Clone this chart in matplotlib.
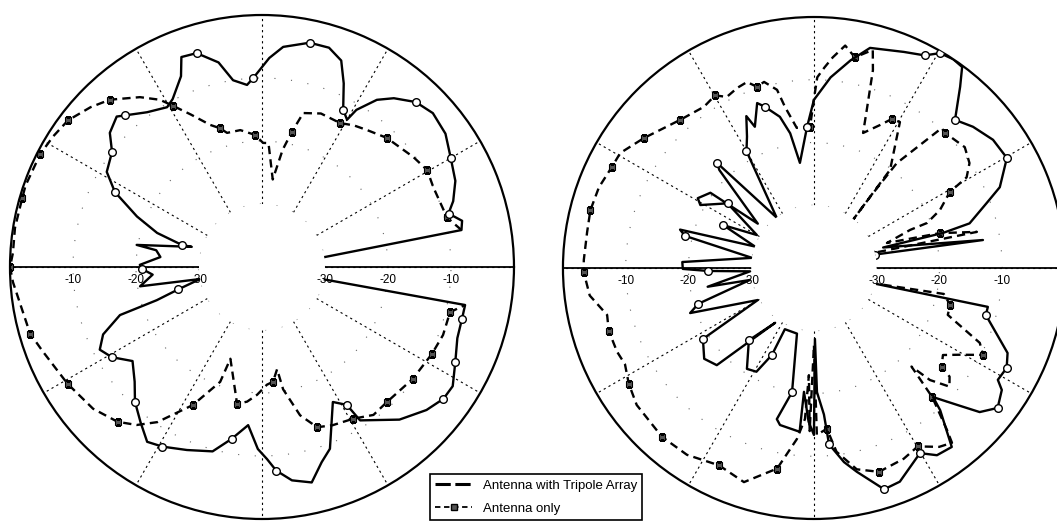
import numpy as np
import matplotlib.pyplot as plt
from matplotlib.lines import Line2D

plt.rcParams['font.family'] = ['Liberation Sans', 'DejaVu Sans']

# radiation patterns as (angle in degrees, level in dB)
left_tripole = [
    (9, -30), (10.5, -7.8), (13, -7.4), (16, -9.2), (19, -7.9), (24, -6.4),
    (30, -5.4), (36, -4.0), (42, -3.5), (47, -4.2), (52, -6.0), (55.5, -7.8),
    (59, -10.9), (60, -13.0), (62.7, -11.9), (66, -8.1), (69, -4.9), (73, -3.6),
    (78, -3.6), (84.5, -4.9), (88, -6.8), (92.7, -10.0), (94.7, -11.0),
    (98.8, -10.0), (102, -6.8), (107, -4.5), (111, -4.3), (113, -7.1),
    (118, -9.8), (120.7, -10.5), (126.6, -9.4), (132, -7.6), (134, -6.8),
    (138.6, -7.8), (142.5, -10.0), (148.5, -11.1), (153, -13.8), (158, -18.6),
    (162, -22.5), (164.6, -26.8), (164, -28.4), (170, -19.8), (171, -23.0),
    (174.4, -23.8), (179, -20.6), (181, -21.0), (184, -22.6), (189, -20.4),
    (191, -30), (195, -26.2), (197.5, -22.5), (198.7, -16.2), (203, -12.6),
    (207, -11.1), (211, -12.2), (216, -14.6), (222, -12.8), (226.7, -10.6),
    (232, -8.7), (236.7, -6.8), (241, -7.4), (247.7, -8.6), (255, -9.7),
    (260, -12.3), (265, -14.8), (268.7, -11.1), (271.5, -9.5), (274, -7.6),
    (278, -5.8), (283, -4.9), (287, -7.6), (290.5, -9.2), (297.7, -15.8),
    (301.6, -14.3), (302.6, -11.1), (312, -7.4), (319, -5.4), (324, -4.4),
    (328, -4.3), (333.8, -5.8), (340, -7.0), (345.4, -7.2), (349.4, -7.2),
    (348.7, -30),
]
left_tripole_marks = [16, 30, 47, 62.7, 78, 92.7, 107, 132, 142.5, 153, 164.6,
                      181, 195, 211, 226.7, 241, 260, 274, 301.6, 324, 333.8, 345.4]

left_only = [
    (10.5, -7.8), (15, -9.6), (25, -10.0), (30.4, -9.6), (36, -10.3),
    (46, -11.5), (52.5, -12.6), (57, -13.2), (61.5, -14.0), (69, -13.9),
    (75, -14.7), (77.5, -18.0), (80, -21.1), (83, -26.0), (87, -20.3),
    (89.5, -20.3), (93, -19.0), (99, -18.0), (104.6, -18.0), (106.8, -17.0),
    (110, -16.0), (115, -13.3), (119, -10.7), (121.4, -8.9), (125.7, -6.8),
    (132.3, -4.1), (137, -2.8), (142.9, -1.4), (148, -0.9), (153, -0.5),
    (161, -0.3), (164, -0.4), (171, -0.3), (176.8, -0.4), (180, 0.0),
    (183.5, -0.4), (196, -1.7), (201, -2.7), (211, -4.0), (220, -5.0),
    (227, -6.4), (231.6, -8.0), (236, -10.3), (243.4, -15.5), (250, -20.6),
    (251, -24.6), (259.7, -17.9), (263.7, -18.5), (267.8, -19.7),
    (272.4, -21.3), (275.5, -21.7), (278.4, -23.6), (279.8, -20.3),
    (284.4, -15.7), (289, -13.1), (294, -12.5), (301, -11.9), (307, -10.6),
    (312.8, -10.8), (323.4, -10.2), (332.9, -9.7), (339.4, -9.3),
    (346.5, -9.3), (349.4, -7.2),
]
left_only_marks = [15, 30.4, 46, 61.5, 77.5, 93, 106.8, 119, 132.3, 142.9, 153,
                   164, 180, 196, 211, 227, 243.4, 259.7, 275.5, 289, 301,
                   312.8, 323.4, 332.9, 346.5]

right_tripole = [
    (12.4, -30), (9.4, -12.7), (16.5, -28.5), (15.2, -18.7), (16, -14.2),
    (20.6, -10.6), (23.5, -7.7), (29.7, -4.6), (35.6, -4.9), (41.6, -6.1),
    (46.4, -7.4), (51.1, -2.9), (53.6, -0.2), (56.3, 0.0), (59.6, -0.3),
    (62.5, -1.8), (67.4, -2.7), (75.7, -3.8), (80, -6.4), (85, -9.5),
    (90, -13.2), (92.8, -17.5), (97.6, -23.1), (100, -18.2), (102.7, -15.3),
    (107, -13.1), (109, -12.2), (112.7, -15.6), (114, -13.5), (117, -16.5),
    (120, -18.5), (126.5, -30), (132.7, -17.2), (134, -18.3), (141.7, -28.6),
    (144, -19.6), (149, -18.4), (151, -19.3), (143.2, -22.8), (150, -29.5),
    (154.7, -24.0), (160, -30), (164, -17.8), (166, -18.8), (170.7, -30),
    (177.4, -19.0), (180.4, -19.1), (181.6, -23.1), (183, -29.8),
    (190, -22.8), (190.6, -29.6), (197.2, -20.7), (200, -19.0),
    (209.7, -29.7), (212.6, -19.0), (219.6, -17.3), (225, -18.1),
    (234.7, -29.3), (228, -24.5), (236.4, -20.7), (241, -21.1),
    (244.2, -24.6), (244.6, -29.2), (255.5, -29.2), (260, -19.9),
    (256.2, -15.2), (257.8, -14.4), (265, -13.8), (265.4, -20.2),
    (268, -15.5), (270, -13.4), (270.8, -28.7), (271.4, -20.2),
    (273.9, -16.6), (274.9, -11.8), (278.8, -8.7), (281.9, -6.8),
    (287.6, -3.0), (291.9, -3.3), (299.8, -6.0), (303.3, -4.3),
    (307.6, -4.0), (311.6, -9.7), (312.7, -12.0), (316.4, -8.3),
    (319, -5.0), (322.7, -3.2), (327, -4.3), (328.7, -5.7), (332.6, -5.4),
    (336.3, -6.3), (344.7, -11.6), (347.4, -11.6), (345.7, -29.6),
]
right_tripole_marks = [12.4, 29.7, 46.4, 59.6, 62.5, 92.8, 107, 120, 132.7,
                       143.2, 154.7, 166, 181.6, 197.2, 212.6, 228, 244.2, 260,
                       274.9, 287.6, 299.8, 322.7, 332.6, 344.7]

right_only = [
    (14, -29.5), (12.5, -13.4), (15.5, -19.2), (18.9, -27.7), (21.6, -23.5),
    (21.7, -20.6), (24.7, -17.9), (29.2, -15.2), (30.7, -11.7), (34, -10.1),
    (38.7, -9.2), (46, -10.0), (47.6, -9.8), (51.7, -18.7), (51.7, -25.6),
    (51, -30), (52.2, -20.2), (59.5, -13.0), (62.4, -13.2), (65.2, -14.9),
    (70, -17.1), (71.5, -13.5), (73.4, -7.1), (74.9, -4.0), (79, -5.8),
    (82, -4.2), (84.9, -6.3), (87, -8.0), (89, -9.6), (89.7, -12.1),
    (91.6, -17.5), (97, -17.5), (100.2, -13.9), (101.7, -11.0), (105, -9.3),
    (107.5, -9.7), (109.8, -8.5), (113, -8.8), (117, -9.4), (119.8, -8.3),
    (124.3, -8.9), (132, -8.2), (137, -7.3), (142.6, -5.9), (149.3, -4.1),
    (153.4, -4.0), (159.4, -3.4), (165.5, -3.2), (171, -3.4), (178, -3.3),
    (181, -3.3), (187, -4.0), (192.8, -6.2), (197, -5.8), (203, -5.9),
    (207, -6.2), (212, -5.2), (217.7, -4.3), (228, -3.8), (235.8, -4.0),
    (244.3, -5.1), (251.9, -4.1), (259.6, -7.5), (264.3, -12.6),
    (266.6, -15.9), (267.3, -22.9), (268.5, -14.0), (270, -27.7),
    (271, -13.4), (274.6, -14.3), (277, -10.5), (282, -7.2), (287.7, -5.9),
    (295.2, -6.4), (300.2, -7.1), (305, -5.2), (308.3, -4.5), (309.4, -6.6),
    (312.5, -12.1), (314.7, -17.9), (316, -14.3), (318.8, -11.3),
    (321.3, -12.3), (322.3, -14.3), (326, -15.2), (329.2, -13.0),
    (332.8, -9.7), (335.7, -11.0), (340.7, -17.4), (344.8, -17.5),
    (348.7, -18.9), (346, -29.5),
]
right_only_marks = [15.5, 29.2, 46, 62.4, 79, 91.6, 107.5, 119.8, 132, 142.6,
                    153.4, 165.5, 181, 197, 212, 228, 244.3, 259.6, 274.6,
                    287.7, 300.2, 312.5, 322.3, 332.8, 344.8]

r_ticks = [-30, -20, -10]
legend_labels = ['Antenna with Tripole Array', 'Antenna only']

tripole_style = dict(color='black', linewidth=1.7, linestyle='-', marker='o',
                     markersize=5.5, markerfacecolor='white',
                     markeredgecolor='black', markeredgewidth=1.0, zorder=3)
only_style = dict(color='black', linewidth=1.7, linestyle=(0, (3.5, 2.2)),
                  marker='s', markersize=4.5, markerfacecolor='#555555',
                  markeredgecolor='black', markeredgewidth=0.8, zorder=2.5)


def setup_axes(fig, rect):
    ax = fig.add_axes(rect, projection='polar')
    ax.set_rorigin(-40)
    ax.set_ylim(-30, 0)
    ax.set_thetagrids(range(0, 360, 30), labels=[''] * 12)
    ax.set_rgrids(r_ticks, labels=[''] * len(r_ticks))
    ax.tick_params(length=0)
    ax.xaxis.grid(True, color='black', linestyle=(0, (2, 3)), linewidth=0.8)
    ax.yaxis.grid(True, color='#666666', linestyle=(0, (1, 14)), linewidth=0.8)
    ax.spines['polar'].set_linewidth(1.6)
    # the hole in the middle has no edge
    ax.spines['inner'].set_edgecolor('none')
    ax.spines['inner'].set_linewidth(0)
    # solid horizontal axis on both sides
    ax.axvline(0, color='black', linewidth=1.3, zorder=2)
    ax.axvline(np.pi, color='black', linewidth=1.3, zorder=2)
    for r in r_ticks:
        for th in (0, np.pi):
            ax.annotate(str(r), xy=(th, r), xytext=(0, -9.5),
                        textcoords='offset points', ha='center', va='center',
                        fontsize=8.5, zorder=2.4, annotation_clip=False)
    return ax


def draw_pattern(ax, pattern, marks, style, label):
    deg, db = np.array(pattern, dtype=float).T
    every = [i for i, d in enumerate(deg) if d in marks]
    line, = ax.plot(np.radians(deg), db, markevery=every, label=label, **style)
    return line


fig = plt.figure(figsize=(10.57, 5.25), dpi=100)

ax_left = setup_axes(fig, [0.00946, 0.01143, 0.4768, 0.96])
draw_pattern(ax_left, left_tripole, left_tripole_marks, tripole_style,
             legend_labels[0])
draw_pattern(ax_left, left_only, left_only_marks, only_style,
             legend_labels[1])

ax_right = setup_axes(fig, [0.5326, 0.01143, 0.4749, 0.9562])
draw_pattern(ax_right, right_tripole, right_tripole_marks, tripole_style,
             legend_labels[0])
draw_pattern(ax_right, right_only, right_only_marks, only_style,
             legend_labels[1])

handle_a = Line2D([], [], color='black', linewidth=2.2, linestyle=(0, (5, 1.5)))
handle_b = Line2D([], [], color='black', linewidth=1.3, linestyle=(0, (3, 2)),
                  marker='s', markersize=4, markerfacecolor='#555555',
                  markeredgecolor='black')
leg = fig.legend([handle_a, handle_b], legend_labels, loc='lower left',
                 bbox_to_anchor=(0.4068, 0.0095), fontsize=9.5, frameon=True,
                 fancybox=False, framealpha=1, edgecolor='black',
                 handlelength=2.8, handletextpad=0.8, labelspacing=0.8,
                 borderpad=0.4, borderaxespad=0.0)
leg.get_frame().set_linewidth(1.2)
leg.set_zorder(10)

fig.savefig('out.png', dpi=100, facecolor='white')
